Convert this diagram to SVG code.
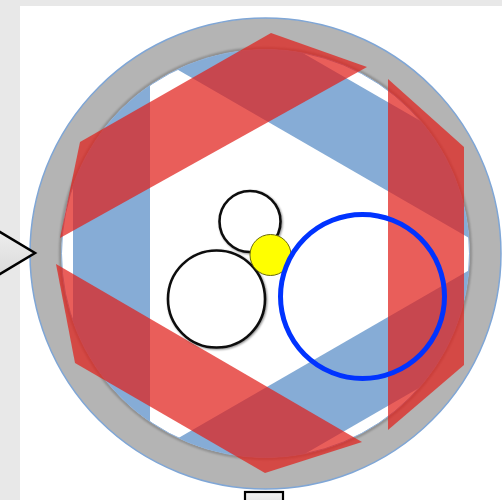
<svg xmlns="http://www.w3.org/2000/svg" width="502" height="500" viewBox="0 0 502 500">
  <defs>
    <style>
      .red { fill: #e0201a; fill-opacity: 0.72; }
      .blue { fill: #86acd6; }
      .bcirc { fill: #ffffff; stroke: #111111; stroke-width: 2.6; }
      .edge { fill: none; stroke: #000000; stroke-width: 2.5; }
    </style>
    <clipPath id="disc">
      <circle cx="265.5" cy="253.5" r="204"/>
    </clipPath>
    <linearGradient id="lg" x1="0" y1="0" x2="0" y2="1">
      <stop offset="0" stop-color="#f2f2f2"/>
      <stop offset="1" stop-color="#d6d6d6"/>
    </linearGradient>
    <filter id="soft" x="-10%" y="-10%" width="120%" height="120%">
      <feGaussianBlur stdDeviation="1.2"/>
    </filter>
    <filter id="shadow" x="-20%" y="-20%" width="140%" height="140%">
      <feGaussianBlur in="SourceAlpha" stdDeviation="1.2" result="b"/>
      <feOffset dx="0.8" dy="0.8" result="o"/>
      <feComponentTransfer in="o" result="s"><feFuncA type="linear" slope="0.45"/></feComponentTransfer>
      <feMerge><feMergeNode in="s"/><feMergeNode in="SourceGraphic"/></feMerge>
    </filter>
  </defs>

  <!-- background -->
  <rect x="0" y="0" width="502" height="500" fill="#e8e8e8"/>
  <rect x="20" y="6" width="482" height="494" fill="#ffffff"/>

  <!-- ring -->
  <g id="ring">
    <circle cx="265.5" cy="253.5" r="235.5" fill="#b4b4b4" stroke="#7fa6d6" stroke-width="1.5"/>
    <circle cx="265.5" cy="253.5" r="205" fill="none" stroke="#000000" stroke-opacity="0.25" stroke-width="2.5" filter="url(#soft)"/>
    <circle cx="265.5" cy="253.5" r="204" fill="#ffffff" stroke="#8fb0d8" stroke-width="1"/>
  </g>

  <!-- blue bands clipped by disc -->
  <g id="blue-bands" clip-path="url(#disc)">
    <polygon class="blue" points="73,30 150,30 150,480 73,480"/>
    <polygon class="blue" points="0,-32.9 520,267.3 520,178.4 0,-121.8"/>
    <polygon class="blue" points="0,541 520,240.8 520,329.7 0,629.9"/>
  </g>

  <!-- red bands -->
  <g id="red-bands">
    <polygon class="red" points="80,142 271,33 367,67 60,238"/>
    <polygon class="red" points="388,79 464,147 464,365 388,430"/>
    <polygon class="red" points="56,264 75,363 265,473 362,442"/>
  </g>

  <!-- small circles -->
  <g id="circle-top" filter="url(#shadow)">
    <circle class="bcirc" cx="250" cy="221.5" r="30.5"/>
  </g>
  <g id="circle-big" filter="url(#shadow)">
    <circle class="bcirc" cx="216.5" cy="299" r="48.5"/>
  </g>
  <g id="circle-yellow">
    <circle cx="270.5" cy="255" r="20.5" fill="#ffff00" stroke="#6b6b10" stroke-width="1"/>
  </g>
  <g id="circle-blue">
    <circle cx="362.5" cy="296.5" r="82" fill="none" stroke="#0033ff" stroke-width="5"/>
  </g>

  <!-- edge shapes -->
  <g id="left-arrow">
    <polygon points="-20,220 35,253 -20,286" fill="url(#lg)" stroke="#000000" stroke-width="2.5"/>
  </g>
  <g id="bottom-box">
    <rect x="245" y="492" width="38" height="20" fill="url(#lg)" stroke="#000000" stroke-width="2.2"/>
  </g>
</svg>
